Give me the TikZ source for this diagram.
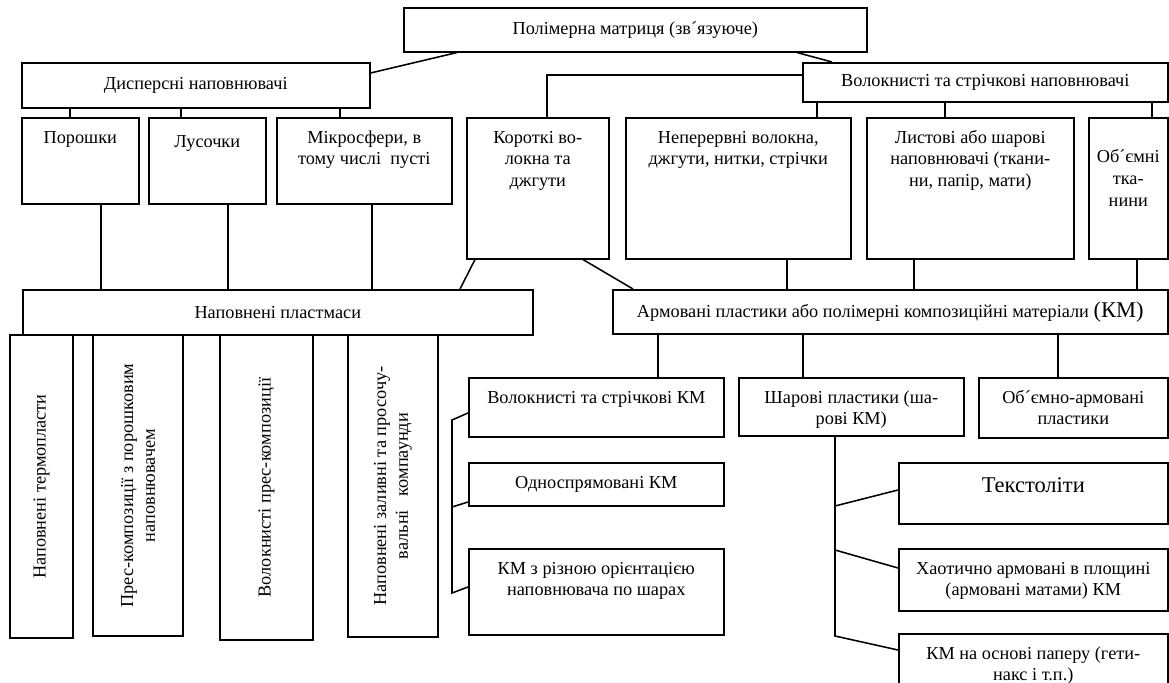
\documentclass[tikz,border=0pt]{standalone}
\usepackage{fontspec}
\setmainfont{Liberation Serif}
\usepackage{tikz}
\newdimen\pxUnit
\pxUnit=0.025cm
\newcommand{\topText}[4][18pt]{\parbox[c][#3\pxUnit][t]{#2\pxUnit}{\centering\rule{0pt}{#1}#4\par}}
\newcommand{\midText}[3]{\parbox[c][#2\pxUnit][c]{#1\pxUnit}{\centering #3\par}}

\begin{document}
\begin{tikzpicture}[
    x=0.025cm, y=-0.025cm,
    cell/.style={%
      draw,
      line width=1.1pt,
      inner sep=0pt,
      anchor=north west,
      font=\fontsize{13}{15.5}\selectfont,
    },
    upright/.style={%
      draw,
      line width=1.1pt,
      inner sep=0pt,
      rotate=90,
      font=\fontsize{13}{15.5}\selectfont,
    },
    link/.style={line width=1.1pt},
  ]
    \useasboundingbox (0,0) rectangle (1169,683);

    \node [cell] (top) at (403,7) {\midText{463}{44}{Полімерна матриця (зв´язуюче)}};
    \node [cell] (dis) at (21,62) {\midText{348}{45}{Дисперсні наповнювачі}};
    \node [cell] (vol) at (802,62) {\midText{365}{39}{Волокнисті та стрічкові наповнювачі}};

    \node [cell] (por) at (21,117) {\topText{117}{86}{Порошки}};
    \node [cell] (lus) at (148,117) {\topText[21pt]{117}{86}{Лусочки}};
    \node [cell] (mik) at (276,117) {\topText{175}{86}{Мікросфери, в\\тому числі\ \ пусті}};
    \node [cell] (kor) at (466,117) {\topText{142}{141}{Короткі во-\\локна та\\джгути}};
    \node [cell] (nep) at (625,117) {\topText{225}{141}{Неперервні волокна,\\джгути, нитки, стрічки}};
    \node [cell] (lis) at (866,117) {\topText{207}{141}{Листові або шарові\\наповнювачі (ткани-\\ни, папір, мати)}};
    \node [cell] (obt) at (1088,117) {\topText[32pt]{79}{141}{Об´ємні\\тка-\\нини}};

    \node [cell] (nap) at (22,289) {\midText{510}{45}{Наповнені пластмаси}};
    \node [cell] (arm) at (612,289) {\midText{555}{44}{Армовані пластики або полімерні композиційні матеріали {\fontsize{16}{19}\selectfont(КМ)}}};

    \node [upright] (v1) at (41.5,486.5) {\midText{303}{63}{Наповнені термопласти}};
    \node [upright] (v2) at (138,485.5) {\midText{301}{90}{Прес-композиції з порошковим\\наповнювачем}};
    \node [upright] (v3) at (266.5,487.5) {\midText{305}{93}{Волокнисті прес-композиції}};
    \node [upright] (v4) at (393,486) {\midText{302}{90}{Наповнені заливні та просочу-\\вальні\ \ \ компаунди}};

    \node [cell] (vkm) at (468,377) {\topText{255}{59}{Волокнисті та стрічкові КМ}};
    \node [cell] (shp) at (738,377) {\topText{225}{58}{Шарові пластики (ша-\\рові КМ)}};
    \node [cell] (oap) at (978,377) {\topText{189}{60}{Об´ємно-армовані\\пластики}};
    \node [cell] (odn) at (468,462) {\midText{255}{43}{Односпрямовані КМ}};
    \node [cell] (riz) at (468,548) {\topText{255}{86}{КМ з різною орієнтацією\\наповнювача по шарах}};
    \node [cell, font=\fontsize{16}{19}\selectfont] (tek) at (898,462) {\topText[21pt]{269}{61}{Текстоліти}};
    \node [cell] (hao) at (898,548) {\topText{269}{62}{Хаотично армовані в площині\\(армовані матами) КМ}};
    \node [cell] (pap) at (898,633) {\topText{269}{62}{КМ на основі паперу (гети-\\накс і т.п.)}};

    \coordinate (volBend) at (547,75);
    \coordinate (brTop) at (452,420);
    \coordinate (brMid) at (452,507);
    \coordinate (brBot) at (452,593);
    \coordinate (shpA) at (835,506);
    \coordinate (shpB) at (835,550);
    \coordinate (shpC) at (835,636);

    \draw [link] (top.south -| 457,0) -- (dis.east |- 0,73);
    \draw [link] (top.south -| 797,0) -- (vol.north -| 832,0);
    \draw [link] (vol.west |- volBend) -- (volBend) -- (kor.north -| volBend);
    \foreach \x/\a in {70/por, 181/lus, 340/mik}
      \draw [link] (dis.south -| \x,0) -- (\a.north -| \x,0);
    \foreach \x/\a in {817/nep, 945/lis, 1152/obt}
      \draw [link] (vol.south -| \x,0) -- (\a.north -| \x,0);
    \foreach \x/\a in {101/por, 228/lus, 372/mik}
      \draw [link] (\a.south -| \x,0) -- (nap.north -| \x,0);
    \draw [link] (kor.south -| 475,0) -- (nap.north -| 460,0);
    \draw [link] (kor.south -| 583,0) -- (arm.north -| 633,0);
    \foreach \x/\a in {787/nep, 914/lis, 1137/obt}
      \draw [link] (\a.south -| \x,0) -- (arm.north -| \x,0);
    \foreach \x/\a in {658/vkm, 803/shp, 1058/oap}
      \draw [link] (arm.south -| \x,0) -- (\a.north -| \x,0);

    \draw [link] (vkm.west |- 0,413) -- (brTop) -- (brBot) -- (riz.west |- 0,587);
    \draw [link] (brMid) -- (odn.west |- 0,502);

    \draw [link] (shp.south -| shpC) -- (shpC) -- (pap.west |- 0,650);
    \draw [link] (shpA) -- (tek.west |- 0,490);
    \draw [link] (shpB) -- (hao.west |- 0,568);
\end{tikzpicture}
\end{document}
